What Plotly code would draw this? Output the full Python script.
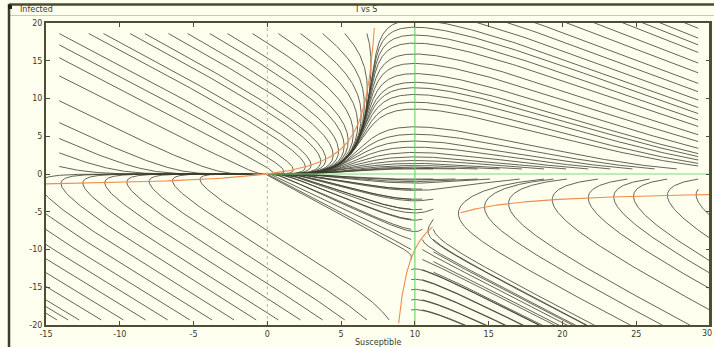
import numpy as np
import plotly.graph_objects as go

# ---- model (SIS-type) parameters read from the nullclines ----
beta = 1.0
gamma = 8.0
mu = 2.0

# ---- starting points of the drawn trajectories ----
right_col_S = 29.2
right_col_I = [19.3, 18.0, 17.1, 16.1, 14.7, 13.4, 12.0, 10.9, 9.8, 8.8, 8.0, 7.15,
               6.3, 5.2, 4.3, 3.4, 2.7, 2.3, 1.85, 1.4, 1.06, -0.67, -2.0]
top_row_I = 18.6
top_row_S = [-14.1, -12.1, -11.1, -9.3, -8.3, -6.7, -5.4, -3.9, -2.7, -1.0,
             0.75, 2.25, 3.75, 5.25, 6.75]
left_col_S = -14.1
left_col_I = [17.1, 15.4, 13.0, 9.7, 6.8, 4.7, 2.8, 1.0]
bottom_row_I = -19.33
bottom_row_S = [-14.25, -13.5, -12.75, -11.25, -9.75, -8.25, -6.75, -5.25, -3.75, -2.25, -0.75,
                0.75, 2.25, 3.75, 5.25, 6.75, 8.25]
neg_row_I = -0.67
neg_row_S = [11.25, 12.75, 14.25, 15.1, 17.1, 18.75, 19.4, 20.3, 22.4, 24.4, 25.9, 27.1]
pos_row_I = 0.67
pos_row_S = [11.25, 12.75, 14.25, 15.75, 17.25, 18.75, 20.25, 21.75, 23.25, 24.75, 26.25, 27.75]
mid_cols_S = [9.75, 10.5]
mid_cols_I = [-2.0, -3.33, -4.67, -6.0, -7.33, -8.67, -10.0, -11.33, -12.67, -14.0, -15.33, -16.67, -18.0]
right_mid_S = 11.25
right_mid_I = [-3.33, -4.67, -6.0, -7.33, -8.67, -10.3, -11.6, -13.0]
t_total = 1.2

# ---- axes ----
x_range = [-15, 30]
y_range = [-20, 20]
x_ticks = [-15, -10, -5, 0, 5, 10, 15, 20, 25]
y_ticks = [-20, -15, -10, -5, 0, 5, 10, 15, 20]

# nullcline S-branches (orange, dS/dt = 0) ; pieces as drawn
orange_pieces = [(-15.0, 7.25), (8.9, 11.2), (13.1, 30.0)]


def field(S, I):
    dS = -beta * S * I + gamma * I - mu * S
    dI = beta * S * I - (gamma + mu) * I
    return dS, dI


def integrate(S0, I0, T, dt=0.0004, rec=4, pad=0.6):
    S = S0.copy()
    I = I0.copy()
    alive = np.ones_like(S, dtype=bool)
    outS = [S.copy()]
    outI = [I.copy()]
    n = int(T / dt)
    h = dt
    lo_s, hi_s = x_range[0] - pad, x_range[1] + pad
    lo_i, hi_i = y_range[0] - pad, y_range[1] + pad
    with np.errstate(all="ignore"):
        for k in range(n):
            k1 = field(S, I)
            k2 = field(S + 0.5 * h * k1[0], I + 0.5 * h * k1[1])
            k3 = field(S + 0.5 * h * k2[0], I + 0.5 * h * k2[1])
            k4 = field(S + h * k3[0], I + h * k3[1])
            Sn = S + h / 6 * (k1[0] + 2 * k2[0] + 2 * k3[0] + k4[0])
            In = I + h / 6 * (k1[1] + 2 * k2[1] + 2 * k3[1] + k4[1])
            fin = np.isfinite(Sn) & np.isfinite(In)
            inside = fin & (Sn > lo_s) & (Sn < hi_s) & (In > lo_i) & (In < hi_i)
            died = alive & ~inside & fin
            S = np.where(alive & fin, Sn, S)
            I = np.where(alive & fin, In, I)
            rec_now = ((k + 1) % rec == 0)
            if rec_now or died.any():
                mask = (alive & inside) | died
                outS.append(np.where(mask, S, np.nan))
                outI.append(np.where(mask, I, np.nan))
            alive = alive & inside
            if not alive.any():
                break
    return np.array(outS), np.array(outI)


starts = []
starts += [(right_col_S, v) for v in right_col_I]
starts += [(v, top_row_I) for v in top_row_S]
starts += [(left_col_S, v) for v in left_col_I]
starts += [(v, bottom_row_I) for v in bottom_row_S]
starts += [(v, neg_row_I) for v in neg_row_S]
starts += [(v, pos_row_I) for v in pos_row_S]
starts += [(c, v) for c in mid_cols_S for v in mid_cols_I]
starts += [(right_mid_S, v) for v in right_mid_I]
S0 = np.array([p[0] for p in starts])
I0 = np.array([p[1] for p in starts])

fS, fI = integrate(S0, I0, t_total)

xs = []
ys = []
for j in range(len(S0)):
    px = fS[:, j]
    py = fI[:, j]
    m = np.isfinite(px) & np.isfinite(py)
    xs.append(px[m])
    ys.append(py[m])
    xs.append(np.array([np.nan]))
    ys.append(np.array([np.nan]))
traj_x = np.concatenate(xs)
traj_y = np.concatenate(ys)

fig = go.Figure()

fig.add_trace(go.Scatter(x=traj_x, y=traj_y, mode="lines",
                         line=dict(color="#3c3c30", width=0.8),
                         hoverinfo="skip", showlegend=False, connectgaps=False))

# orange nullcline (dS/dt = 0): I = mu*S/(gamma - beta*S)
for a, b in orange_pieces:
    s = np.linspace(a, b, 300)
    i = mu * s / (gamma - beta * s)
    fig.add_trace(go.Scatter(x=s, y=i, mode="lines",
                             line=dict(color="#f28c4a", width=1.1),
                             hoverinfo="skip", showlegend=False))

# green nullclines (dI/dt = 0): I = 0 and S = (gamma+mu)/beta
s_star = (gamma + mu) / beta
fig.add_trace(go.Scatter(x=[0.2, x_range[1]], y=[0, 0], mode="lines",
                         line=dict(color="#7ed87e", width=1.1),
                         hoverinfo="skip", showlegend=False))
fig.add_trace(go.Scatter(x=[s_star, s_star], y=y_range, mode="lines",
                         line=dict(color="#66d466", width=1.1),
                         hoverinfo="skip", showlegend=False))
# dotted zero axis
fig.add_trace(go.Scatter(x=[0, 0], y=y_range, mode="lines",
                         line=dict(color="#b8b8a8", width=1, dash="dot"),
                         hoverinfo="skip", showlegend=False))

W, H = 714, 347
x0p, x1p = 46, 710
y0p, y1p = 23, 325

bg = "#fffff0"
axcol = "#4e4e36"
font = dict(family="DejaVu Sans", size=8, color="#3a3a2a")

fig.update_layout(
    width=W, height=H,
    margin=dict(l=0, r=0, t=0, b=0, autoexpand=False),
    paper_bgcolor=bg, plot_bgcolor=bg,
    xaxis=dict(domain=[x0p / W, x1p / W], range=x_range, tickvals=x_ticks,
               ticktext=[str(v) for v in x_ticks], automargin=False,
               showgrid=False, zeroline=False, showline=True, linecolor=axcol,
               linewidth=2, mirror="allticks", ticks="inside", ticklen=4,
               tickcolor=axcol, tickwidth=1, tickfont=font),
    yaxis=dict(domain=[(H - y1p) / H, (H - y0p) / H], range=y_range, tickvals=y_ticks,
               ticktext=[str(v) for v in y_ticks], automargin=False,
               showgrid=False, zeroline=False, showline=True, linecolor=axcol,
               linewidth=2, mirror="allticks", ticks="inside", ticklen=4,
               tickcolor=axcol, tickwidth=1, tickfont=font),
    font=font,
)

def px_x(p):
    return p / W

def px_y(p):
    return 1 - p / H

shapes = [
    dict(type="line", xref="paper", yref="paper", x0=px_x(9), x1=1, y0=px_y(4.5), y1=px_y(4.5),
         line=dict(color="#4a4a30", width=2.5)),
    dict(type="line", xref="paper", yref="paper", x0=px_x(10), x1=1, y0=px_y(15.5), y1=px_y(15.5),
         line=dict(color="#c8c8b8", width=1)),
    dict(type="line", xref="paper", yref="paper", x0=px_x(9), x1=px_x(9), y0=px_y(4), y1=0,
         line=dict(color="#3e3e2a", width=2.5)),
    dict(type="rect", xref="paper", yref="paper", x0=px_x(8), x1=px_x(12), y0=px_y(5), y1=px_y(9),
         fillcolor="#222218", line=dict(width=0)),
    dict(type="line", xref="paper", yref="paper", x0=px_x(x1p), x1=px_x(x1p),
         y0=px_y(y0p), y1=px_y(y1p), line=dict(color=axcol, width=2)),
]
fig.update_layout(shapes=shapes)

fig.add_annotation(text="Infected", xref="paper", yref="paper", x=px_x(18), y=px_y(10),
                   xanchor="left", yanchor="middle", showarrow=False, font=font)
fig.add_annotation(text="I vs S", xref="paper", yref="paper", x=px_x(367), y=px_y(10),
                   xanchor="center", yanchor="middle", showarrow=False, font=font)
fig.add_annotation(text="Susceptible", xref="paper", yref="paper", x=px_x(378), y=px_y(342),
                   xanchor="center", yanchor="middle", showarrow=False, font=font)
fig.add_annotation(text="30", xref="paper", yref="paper", x=1.0, y=px_y(333),
                   xanchor="right", yanchor="middle", showarrow=False, font=font)

fig.write_html("out.html")
